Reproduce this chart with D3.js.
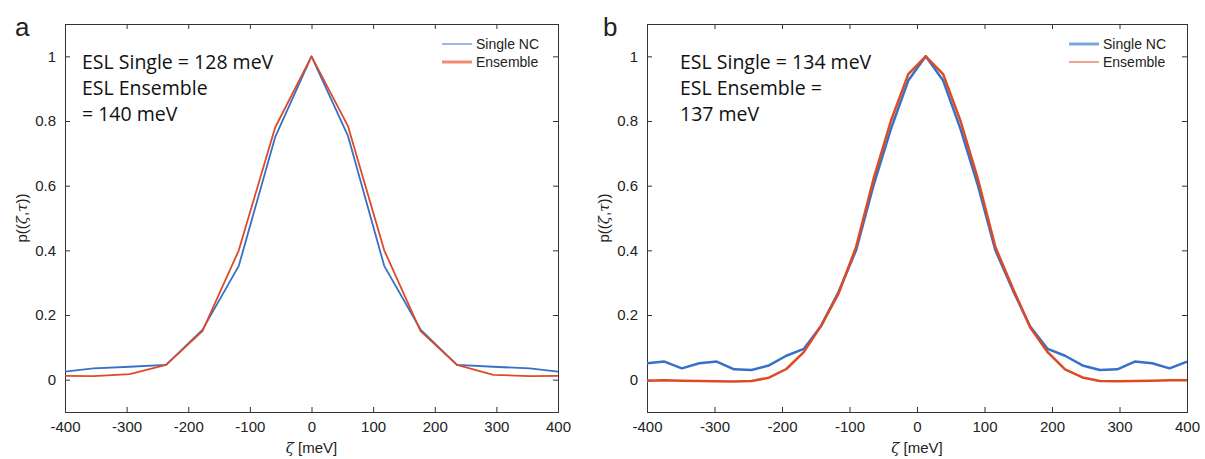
<!DOCTYPE html>
<html lang="en">
<head>
  <meta charset="UTF-8">
  <title>ESL distributions</title>
  <script src="https://d3js.org/d3.v7.min.js"></script>
  <style>
    body { margin: 0; background: #fff; }
    text { font-family: "Liberation Sans", Arial, sans-serif; fill: #222; }
    .note { font-family: "Open Sans", sans-serif; font-size: 19.5px; fill: #111; }
    .axis path, .axis line { stroke: #333; }
  </style>
</head>
<body>
  <div id="chart"></div>
  <script>
    // panel a: coarse grid (edge points fall just outside the window)
    const zetaA = [-413, -354, -295, -236, -177, -118, -59, 0, 59, 118, 177, 236, 295, 354, 413];
    const singleA = [0.022, 0.035, 0.040, 0.046, 0.154, 0.352, 0.75, 1.0, 0.755, 0.352, 0.155, 0.046, 0.040, 0.035, 0.022];
    const ensembleA = [0.012, 0.011, 0.017, 0.046, 0.150, 0.40, 0.78, 1.0, 0.785, 0.40, 0.150, 0.046, 0.015, 0.011, 0.012];

    // panel b: 32 points from -400 to 400
    const zetaB = d3.range(32).map(i => -400 + i * 800 / 31);
    const singleB = [0.051, 0.056, 0.035, 0.051, 0.056, 0.032, 0.030, 0.044, 0.074, 0.095, 0.167, 0.272,
      0.40, 0.60, 0.775, 0.925, 1.0, 0.925, 0.775, 0.60, 0.40, 0.277, 0.164, 0.095,
      0.074, 0.044, 0.030, 0.032, 0.056, 0.051, 0.035, 0.056];
    const ensembleB = [-0.003, -0.002, -0.003, -0.004, -0.005, -0.006, -0.004, 0.006, 0.033, 0.085, 0.167, 0.267,
      0.41, 0.62, 0.80, 0.945, 1.0, 0.945, 0.80, 0.62, 0.41, 0.283, 0.161, 0.085,
      0.032, 0.007, -0.004, -0.005, -0.004, -0.003, -0.002, -0.002];

    const xTicks = [-400, -300, -200, -100, 0, 100, 200, 300, 400];
    const yTicks = [0, 0.2, 0.4, 0.6, 0.8, 1];
    const seriesNames = ["Single NC", "Ensemble"];
    const notesA = ["ESL Single = 128 meV", "ESL Ensemble", "= 140 meV"];
    const notesB = ["ESL Single = 134 meV", "ESL Ensemble =", "137 meV"];

    const blue = "#3671c6";
    const red = "#dc4b26";

    const svg = d3.select("#chart").append("svg")
      .attr("width", 1205)
      .attr("height", 459);

    function panel(opt) {
      const x = d3.scaleLinear().domain([-400, 400]).range([opt.left, opt.right]);
      const y = d3.scaleLinear().domain([-0.1, 1.1]).range([412, 24]);
      const g = svg.append("g");

      g.append("clipPath").attr("id", "clip" + opt.id)
        .append("rect")
        .attr("x", opt.left).attr("y", 24)
        .attr("width", opt.right - opt.left).attr("height", 388);

      // ticks point inward on all four sides, plain hyphen for negatives
      g.append("g").attr("class", "axis")
        .attr("transform", "translate(0,412)")
        .call(d3.axisBottom(x).tickValues(xTicks).tickSize(-5).tickPadding(9).tickFormat(d => String(d)))
        .call(s => s.selectAll("text").style("font-size", "15px"));
      g.append("g").attr("class", "axis")
        .attr("transform", "translate(0,24)")
        .call(d3.axisTop(x).tickValues(xTicks).tickSize(-5).tickFormat(""));
      g.append("g").attr("class", "axis")
        .attr("transform", `translate(${opt.left},0)`)
        .call(d3.axisLeft(y).tickValues(yTicks).tickSize(-5).tickPadding(9).tickFormat(d => String(d)))
        .call(s => s.selectAll("text").style("font-size", "15px"));
      g.append("g").attr("class", "axis")
        .attr("transform", `translate(${opt.right},0)`)
        .call(d3.axisRight(y).tickValues(yTicks).tickSize(-5).tickFormat(""));
      g.selectAll(".axis path").attr("stroke", "#333");

      const line = d3.line().x(d => x(d[0])).y(d => y(d[1]));
      const plot = g.append("g").attr("clip-path", `url(#clip${opt.id})`);
      plot.append("path")
        .datum(d3.zip(opt.zeta, opt.single))
        .attr("fill", "none").attr("stroke", blue)
        .attr("stroke-width", opt.lw).attr("stroke-linejoin", "round")
        .attr("d", line);
      plot.append("path")
        .datum(d3.zip(opt.zeta, opt.ensemble))
        .attr("fill", "none").attr("stroke", red)
        .attr("stroke-width", opt.lw).attr("stroke-linejoin", "round")
        .attr("d", line);

      // legend
      const lg = g.append("g").attr("transform", `translate(${opt.legendX},37)`);
      lg.append("rect").attr("width", opt.legendW).attr("height", 35).attr("fill", "#fff");
      seriesNames.forEach((name, i) => {
        const st = opt.legendStyle[i];
        lg.append("line")
          .attr("x1", 4).attr("x2", 34)
          .attr("y1", 7 + i * 18).attr("y2", 7 + i * 18)
          .attr("stroke", st.c).attr("stroke-width", st.w);
        lg.append("text")
          .attr("x", 38).attr("y", 7 + i * 18)
          .attr("dy", "0.35em")
          .style("font-size", "14px")
          .text(name);
      });

      // ESL annotation
      opt.notes.forEach((t, i) => {
        g.append("text").attr("class", "note")
          .attr("x", opt.noteX).attr("y", 69 + i * 26)
          .text(t);
      });

      // panel letter
      g.append("text")
        .attr("x", opt.letterX).attr("y", 36)
        .style("font-size", "26px")
        .text(opt.id);

      // y label
      const yl = g.append("text")
        .attr("transform", `translate(${opt.left - 38},218) rotate(-90)`)
        .attr("text-anchor", "middle")
        .style("font-size", "15px");
      yl.append("tspan").text("p((");
      yl.append("tspan").style("font-style", "italic").attr("font-family", "DejaVu Serif").text("ζ");
      yl.append("tspan").text(",");
      yl.append("tspan").style("font-style", "italic").attr("font-family", "DejaVu Serif").text("τ");
      yl.append("tspan").text("))");

      // x label
      const xl = g.append("text")
        .attr("x", (opt.left + opt.right) / 2).attr("y", 453)
        .attr("text-anchor", "middle")
        .style("font-size", "15px");
      xl.append("tspan").style("font-style", "italic").attr("font-family", "DejaVu Serif").text("ζ");
      xl.append("tspan").text(" [meV]");
    }

    panel({
      id: "a", left: 65, right: 558,
      zeta: zetaA, single: singleA, ensemble: ensembleA, lw: 1.8,
      legendX: 438, legendW: 114,
      legendStyle: [{ c: blue, w: 1 }, { c: "#f08c72", w: 3 }],
      notes: notesA, noteX: 82, letterX: 15
    });
    panel({
      id: "b", left: 647, right: 1187,
      zeta: zetaB, single: singleB, ensemble: ensembleB, lw: 2.5,
      legendX: 1065, legendW: 112,
      legendStyle: [{ c: "#7aa6de", w: 3 }, { c: red, w: 1 }],
      notes: notesB, noteX: 680, letterX: 603
    });
  </script>
</body>
</html>
